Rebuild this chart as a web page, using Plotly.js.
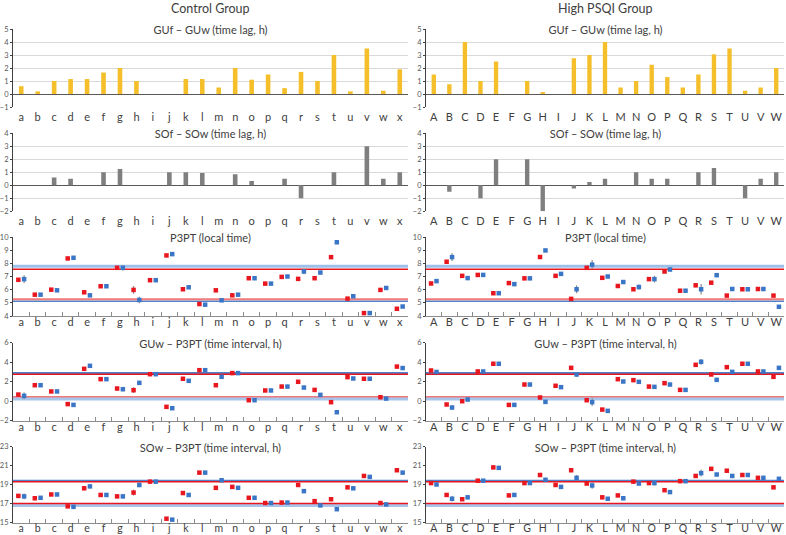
<!DOCTYPE html>
<html>
<head>
<meta charset="utf-8">
<script src="https://cdn.plot.ly/plotly-3.0.1.min.js"></script>
<style>html,body{margin:0;padding:0;background:#fff;}#chart{width:786px;height:535px;}</style>
</head>
<body>
<div id="chart"></div>
<script>
// ---------- categories ----------
const catsCtrl = ['a','b','c','d','e','f','g','h','i','j','k','l','m','n','o','p','q','r','s','t','u','v','w','x'];
const catsHigh = ['A','B','C','D','E','F','G','H','I','J','K','L','M','N','O','P','Q','R','S','T','U','V','W'];

// ---------- titles ----------
const groupTitles = ['Control Group', 'High PSQI Group'];
const rowTitles = ['GUf \u2013 GUw (time lag, h)', 'SOf \u2013 SOw (time lag, h)', 'P3PT (local time)',
                   'GUw \u2013 P3PT (time interval, h)', 'SOw \u2013 P3PT (time interval, h)'];

// ---------- bar rows ----------
const guLagCtrl = [0.6,0.2,1.0,1.15,1.15,1.65,2.0,1.0,0,0,1.15,1.15,0.5,2.0,1.1,1.5,0.45,1.7,1.0,3.0,0.2,3.5,0.25,1.9];
const soLagCtrl = [0,0,0.6,0.5,0,1.0,1.25,0,0,1.0,1.0,0.95,0,0.85,0.33,0,0.5,-1.0,0,1.0,0,3.0,0.5,1.0];
const guLagHigh = [1.5,0.75,4.0,1.0,2.5,0,1.0,0.15,0,2.75,3.0,4.0,0.5,1.0,2.25,1.3,0.5,1.5,3.05,3.5,0.25,0.5,2.0];
const soLagHigh = [0,-0.5,0,-1.0,2.0,0,2.0,-2.0,0,-0.25,0.25,0.5,0,1.0,0.5,0.5,0,1.0,1.33,0,-1.0,0.5,1.0];

// ---------- P3PT (local time) ----------
const p3ptCtrlRed  = [6.75,5.62,6.0,8.37,5.8,6.26,7.66,5.98,6.72,8.6,6.03,4.91,5.95,5.57,6.87,6.46,6.97,6.82,6.87,8.47,5.32,4.22,5.98,4.55];
const p3ptCtrlBlue = [6.8,5.62,5.95,8.42,5.57,6.26,7.66,5.22,6.72,8.7,6.18,4.86,5.19,5.62,6.87,6.46,7.0,7.38,7.3,9.6,5.5,4.22,6.13,4.72];
const p3ptCtrlRedErr  = [0,0,0,0.12,0,0,0,0.3,0,0,0,0,0,0,0,0,0,0,0,0,0,0,0,0];
const p3ptCtrlBlueErr = [0.3,0,0,0.15,0,0,0.2,0.25,0,0,0,0,0,0,0,0,0,0.2,0,0.12,0,0,0,0];
const p3ptHighRed  = [6.47,8.12,7.05,7.12,5.73,6.5,6.86,8.48,7.05,5.3,7.66,6.9,6.28,6.03,6.8,7.38,5.92,6.33,6.53,5.55,6.03,6.05,5.55];
const p3ptHighBlue = [6.65,8.47,6.88,7.12,5.73,6.42,6.86,8.98,7.2,6.03,7.9,7.0,6.58,6.2,6.8,7.53,5.92,6.03,7.1,6.05,6.03,6.05,4.7];
const p3ptHighRedErr  = [0,0.15,0,0,0,0,0,0,0,0.1,0,0,0,0,0,0,0,0,0,0,0,0,0];
const p3ptHighBlueErr = [0.1,0.3,0,0,0,0,0,0,0.12,0.3,0.35,0,0,0.2,0.25,0,0,0.4,0,0.12,0,0,0.12];

// ---------- GUw - P3PT ----------
const guwCtrlRed  = [0.68,1.64,1.0,-0.3,3.32,2.26,1.3,1.13,2.77,-0.58,2.3,3.18,1.64,2.88,0.1,1.1,1.5,1.99,1.16,-0.1,2.47,2.3,0.41,3.55];
const guwCtrlBlue = [0.55,1.64,1.0,-0.38,3.63,2.26,1.23,1.88,2.77,-0.72,2.09,3.18,2.5,2.88,0.1,1.1,1.5,1.4,0.65,-1.13,2.33,2.3,0.27,3.4];
const guwCtrlRedErr  = [0,0,0,0,0,0,0,0.3,0,0,0,0,0,0,0,0,0,0,0,0,0,0,0,0];
const guwCtrlBlueErr = [0.35,0,0,0,0,0,0.2,0.2,0,0,0,0,0,0,0,0,0,0.15,0,0,0,0,0,0];
const guwHighRed  = [3.15,-0.34,0.0,3.05,3.84,-0.38,1.71,0.38,1.58,3.42,0.1,-0.86,2.26,2.16,1.5,1.85,1.16,3.73,2.74,3.49,3.84,3.05,2.5];
const guwHighBlue = [3.0,-0.65,0.17,3.05,3.84,-0.38,1.71,-0.07,1.44,2.74,-0.1,-0.99,2.02,1.99,1.47,1.71,1.16,4.04,2.19,3.01,3.84,3.05,3.42];
const guwHighRedErr  = [0,0.1,0,0,0,0,0,0,0,0.15,0,0,0,0,0,0,0,0,0,0,0,0,0];
const guwHighBlueErr = [0,0.2,0,0,0,0,0,0,0,0.25,0.4,0,0,0.15,0.2,0,0,0.3,0,0,0,0,0.15];

// ---------- SOw - P3PT ----------
const sowCtrlRed  = [17.8,17.55,17.95,16.7,18.6,17.9,17.75,18.15,19.3,15.4,18.1,20.25,18.65,18.75,17.6,17.05,17.1,18.95,17.25,17.45,18.7,19.9,17.05,20.5];
const sowCtrlBlue = [17.75,17.6,17.95,16.65,18.8,17.9,17.75,18.95,19.3,15.3,17.9,20.25,19.45,18.65,17.6,17.05,17.1,18.3,16.8,16.4,18.6,19.8,16.9,20.25];
const sowCtrlRedErr  = [0,0,0,0,0,0,0,0.3,0,0,0,0,0,0,0,0,0,0,0,0,0,0,0,0];
const sowCtrlBlueErr = [0.3,0,0,0,0,0,0.2,0.25,0,0,0,0,0,0,0,0,0,0.15,0,0,0,0,0,0];
const sowHighRed  = [19.15,17.9,17.45,19.4,20.8,17.85,19.15,20.0,18.95,20.5,19.1,17.65,17.85,19.3,19.15,18.4,19.35,19.9,20.65,20.45,20.0,19.7,18.7];
const sowHighBlue = [19.0,17.5,17.65,19.4,20.75,17.9,19.15,19.5,18.75,19.7,18.9,17.5,17.55,19.1,19.15,18.2,19.35,20.2,20.05,19.9,20.0,19.7,19.6];
const sowHighRedErr  = [0,0.15,0,0,0,0,0,0,0,0.15,0,0,0,0,0,0,0,0,0,0,0,0,0];
const sowHighBlueErr = [0,0.3,0,0,0,0,0,0,0.12,0.3,0.35,0,0,0.15,0.25,0,0,0.35,0,0,0,0,0.2];

// ---------- reference lines (blue upper, red upper, red lower, blue lower) ----------
const p3ptRefLines = [7.78, 7.55, 5.28, 5.12];
const guwRefLines  = [2.9, 2.77, 0.45, 0.27];
const sowRefLines  = [19.4, 19.3, 17.0, 16.85];

// ---------- layout geometry ----------
const W = 786, H = 535;
const colX = [[13, 408], [426, 784]];
const rowY = [[29, 107], [133.3, 211.3], [237, 316], [342.7, 420.7], [446.5, 522.5]];
const yRanges = [[-1,5], [-2,4], [4,10], [-2,6], [15,23]];
const yDticks = [1, 1, 1, 2, 2];

const FONT = 'Lato, "Liberation Sans", sans-serif';
const RED = '#e8161e', BLUE = '#3b76c6';
const BAR_COLORS = ['#f4bf2a', '#7f7f7f'];

const colCats = [catsCtrl, catsHigh];
const barData = [[guLagCtrl, soLagCtrl], [guLagHigh, soLagHigh]];
const ptData = [
  [[p3ptCtrlRed, p3ptCtrlBlue, p3ptCtrlRedErr, p3ptCtrlBlueErr],
   [guwCtrlRed, guwCtrlBlue, guwCtrlRedErr, guwCtrlBlueErr],
   [sowCtrlRed, sowCtrlBlue, sowCtrlRedErr, sowCtrlBlueErr]],
  [[p3ptHighRed, p3ptHighBlue, p3ptHighRedErr, p3ptHighBlueErr],
   [guwHighRed, guwHighBlue, guwHighRedErr, guwHighBlueErr],
   [sowHighRed, sowHighBlue, sowHighRedErr, sowHighBlueErr]]
];
const refLines = [p3ptRefLines, guwRefLines, sowRefLines];
// styles per row for [blueUpper, redUpper, redLower, blueLower]
const refStyles = [
  [{c:'#9cc0ea', w:3}, {c:RED, w:1.5}, {c:'#f07a7a', w:2}, {c:'#4f84cc', w:1.5}],
  [{c:'#4f84cc', w:2}, {c:RED, w:1.5}, {c:'#f07a7a', w:1.5}, {c:'#a8c6ec', w:4}],
  [{c:'#4f84cc', w:2}, {c:RED, w:1.5}, {c:RED, w:1.5}, {c:'#a8c6ec', w:4}]
];

const traces = [];
const layout = {
  width: W, height: H,
  margin: {l:0, r:0, t:0, b:0},
  paper_bgcolor: '#fff', plot_bgcolor: 'rgba(0,0,0,0)',
  showlegend: false,
  bargap: 0.72,
  scattermode: 'group',
  scattergap: 0.3,
  font: {family: FONT, color: '#404040'},
  annotations: [],
  shapes: []
};

for (let c = 0; c < 2; c++) {
  for (let r = 0; r < 5; r++) {
    const k = c * 5 + r + 1;
    const xa = 'x' + (k === 1 ? '' : k), ya = 'y' + (k === 1 ? '' : k);
    const xKey = 'xaxis' + (k === 1 ? '' : k), yKey = 'yaxis' + (k === 1 ? '' : k);
    const xd = [colX[c][0] / W, colX[c][1] / W];
    const yd = [1 - rowY[r][1] / H, 1 - rowY[r][0] / H];
    const isBar = r < 2;
    layout[xKey] = {
      domain: xd, anchor: ya, type: 'category',
      range: [-0.5, colCats[c].length - 0.5],
      showgrid: false, zeroline: false,
      showline: !isBar, linecolor: '#8c8c8c', linewidth: 1,
      ticks: isBar ? '' : 'inside', tickson: 'boundaries', ticklen: 4, tickcolor: '#8c8c8c',
      tickangle: 0,
      tickfont: {size: r === 4 ? 10.5 : 11, color: '#404040', family: FONT},
      ticklabelstandoff: isBar ? 2 : -4,
      fixedrange: true
    };
    layout[yKey] = {
      domain: yd, anchor: xa,
      range: yRanges[r], dtick: yDticks[r], tick0: yRanges[r][0],
      showgrid: isBar, gridcolor: '#d9d9d9', gridwidth: 1,
      zeroline: isBar, zerolinecolor: '#595959', zerolinewidth: 1,
      showline: true, linecolor: '#404040', linewidth: 1,
      ticks: 'outside', ticklen: 2, tickcolor: '#404040',
      tickfont: {size: 7.5, color: '#595959', family: FONT},
      ticklabelstandoff: 0,
      fixedrange: true
    };
    // subplot title
    layout.annotations.push({
      xref: 'paper', yref: 'paper',
      x: (xd[0] + xd[1]) / 2, y: yd[1],
      xanchor: 'center', yanchor: 'middle',
      text: rowTitles[r], showarrow: false,
      font: {size: 11, color: '#404040', family: FONT},
      bgcolor: '#ffffff', width: 145, height: 14
    });
    if (isBar) {
      traces.push({
        type: 'bar', x: colCats[c], y: barData[c][r],
        xaxis: xa, yaxis: ya,
        marker: {color: BAR_COLORS[r], line: {width: 0}},
        hoverinfo: 'x+y'
      });
    } else {
      const d = ptData[c][r - 2];
      const cols = [RED, BLUE];
      for (let s = 0; s < 2; s++) {
        traces.push({
          type: 'scatter', mode: 'markers', orientation: 'v',
          x: colCats[c], y: d[s], xaxis: xa, yaxis: ya,
          offsetgroup: 'g' + s,
          marker: {symbol: 'square', size: 4.5, color: cols[s]},
          error_y: {type: 'data', array: d[s + 2], visible: true, color: '#8a8a8a', thickness: 1.2, width: 0},
          cliponaxis: false
        });
      }
      const vals = refLines[r - 2];
      const sty = refStyles[r - 2];
      const order = [0, 3, 1, 2];
      order.forEach(i => {
        layout.shapes.push({
          type: 'line', xref: xa + ' domain', yref: ya,
          x0: 0, x1: 1, y0: vals[i], y1: vals[i],
          line: {color: sty[i].c, width: sty[i].w},
          layer: 'below'
        });
      });
    }
  }
}

// group titles
groupTitles.forEach((t, c) => {
  layout.annotations.push({
    xref: 'paper', yref: 'paper',
    x: (colX[c][0] + colX[c][1]) / 2 / W, y: 1,
    xanchor: 'center', yanchor: 'top',
    text: t, showarrow: false, borderpad: 0,
    font: {size: 12.5, color: '#404040', family: FONT}
  });
});

Plotly.newPlot('chart', traces, layout, {staticPlot: true, displayModeBar: false});
</script>
</body>
</html>
